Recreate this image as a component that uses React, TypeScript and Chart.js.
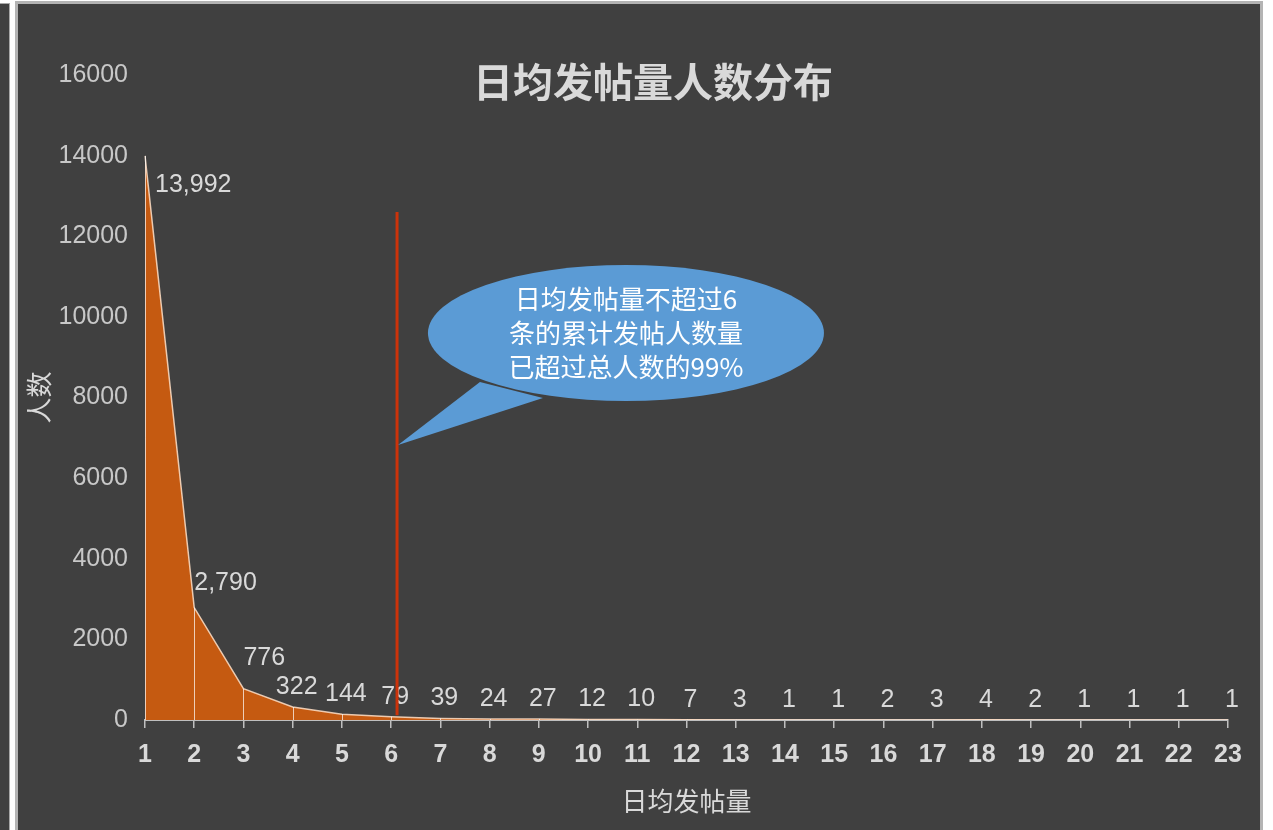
import { useEffect, useRef } from 'react';
import { Chart, registerables } from 'chart.js';

Chart.register(...registerables);

// ---- data ----
const categories = ['1', '2', '3', '4', '5', '6', '7', '8', '9', '10', '11', '12', '13', '14', '15', '16', '17', '18', '19', '20', '21', '22', '23'];
const userCounts = [13992, 2790, 776, 322, 144, 79, 39, 24, 27, 12, 10, 7, 3, 1, 1, 2, 3, 4, 2, 1, 1, 1, 1];
const yMin = 0;
const yMax = 16000;
const yStep = 2000;
const chartTitle = '日均发帖量人数分布';
const xTitle = '日均发帖量';
const yTitle = '人数';
const calloutLines = ['日均发帖量不超过6', '条的累计发帖人数量', '已超过总人数的99%'];
// threshold marker (category index units, value units)
const thresholdIndex = 5.12;
const thresholdTop = 12600;
const thresholdBottom = 120;
// callout anchor (category index units, value units)
const calloutCenterIndex = 9.77;
const calloutCenterValue = 9600;
const calloutTipIndex = 5.14;
const calloutTipValue = 6820;

const FONT = '"Liberation Sans", Arial, "Noto Sans CJK SC", sans-serif';
const CJK = '"Noto Sans CJK SC", "Liberation Sans", sans-serif';
const LIGHT = '#d9d9d9';

const overlayPlugin = {
  id: 'overlay',
  afterDatasetsDraw(chart: any) {
    const ctx: CanvasRenderingContext2D = chart.ctx;
    const xs = chart.scales.x;
    const ys = chart.scales.y;
    const meta = chart.getDatasetMeta(0);
    const base = ys.getPixelForValue(0);
    ctx.save();

    // drop lines
    ctx.strokeStyle = 'rgba(255,255,255,0.7)';
    ctx.lineWidth = 1;
    meta.data.forEach((pt: any) => {
      const px = Math.round(pt.x) + 0.5;
      ctx.beginPath();
      ctx.moveTo(px, pt.y);
      ctx.lineTo(px, base);
      ctx.stroke();
    });

    // data labels
    ctx.fillStyle = LIGHT;
    ctx.font = `25px ${FONT}`;
    ctx.textBaseline = 'middle';
    meta.data.forEach((pt: any, i: number) => {
      const txt = userCounts[i].toLocaleString('en-US');
      if (i === 0) {
        ctx.textAlign = 'left';
        ctx.fillText(txt, pt.x + 10, pt.y + 29);
      } else if (i === 1) {
        ctx.textAlign = 'left';
        ctx.fillText(txt, pt.x, pt.y - 24);
      } else if (i === 2) {
        ctx.textAlign = 'left';
        ctx.fillText(txt, pt.x, pt.y - 31);
      } else {
        ctx.textAlign = 'center';
        ctx.fillText(txt, pt.x + 4, pt.y - 20);
      }
    });

    // threshold line
    const tx = xs.getPixelForValue(thresholdIndex);
    ctx.strokeStyle = '#cc330a';
    ctx.lineWidth = 3;
    ctx.beginPath();
    ctx.moveTo(tx, ys.getPixelForValue(thresholdTop));
    ctx.lineTo(tx, ys.getPixelForValue(thresholdBottom));
    ctx.stroke();

    // callout bubble
    const cx = xs.getPixelForValue(calloutCenterIndex);
    const cy = ys.getPixelForValue(calloutCenterValue);
    const tipX = xs.getPixelForValue(calloutTipIndex);
    const tipY = ys.getPixelForValue(calloutTipValue);
    ctx.fillStyle = '#5b9bd5';
    ctx.beginPath();
    ctx.ellipse(cx, cy, 198, 68, 0, 0, Math.PI * 2);
    ctx.fill();
    ctx.beginPath();
    ctx.moveTo(cx - 146, cy + 49);
    ctx.lineTo(tipX, tipY);
    ctx.lineTo(cx - 83, cy + 65);
    ctx.closePath();
    ctx.fill();
    ctx.fillStyle = '#ffffff';
    ctx.font = `26px ${CJK}`;
    ctx.textAlign = 'center';
    ctx.textBaseline = 'middle';
    calloutLines.forEach((line, i) => {
      ctx.fillText(line, cx, cy - 34 + i * 34);
    });

    // title
    ctx.fillStyle = LIGHT;
    ctx.font = `bold 40px ${CJK}`;
    ctx.textAlign = 'center';
    ctx.textBaseline = 'middle';
    ctx.fillText(chartTitle, chart.width / 2 + 14, chart.chartArea.top + 7);

    ctx.restore();
  },
};

export default function App() {
  const ref = useRef<HTMLCanvasElement | null>(null);

  useEffect(() => {
    if (!ref.current) return;
    const chart = new Chart(ref.current, {
      type: 'line',
      data: {
        labels: categories,
        datasets: [
          {
            data: userCounts,
            fill: 'origin',
            backgroundColor: '#c55a11',
            borderColor: 'rgba(255,225,200,0.85)',
            borderWidth: 1.5,
            pointRadius: 0,
            tension: 0,
          },
        ],
      },
      options: {
        responsive: false,
        animation: false,
        layout: { padding: { left: 0, right: 32, top: 71, bottom: 0 } },
        plugins: {
          legend: { display: false },
          title: { display: false },
          tooltip: { enabled: false },
        },
        scales: {
          x: {
            type: 'category',
            offset: false,
            grid: {
              display: true,
              drawOnChartArea: false,
              drawTicks: true,
              tickLength: 8,
              color: '#bfbfbf',
              lineWidth: 1.5,
            },
            border: { display: true, color: '#bfbfbf', width: 2 },
            ticks: {
              color: LIGHT,
              font: { family: FONT, size: 25, weight: 'bold' },
              padding: 12,
              autoSkip: false,
              maxRotation: 0,
            },
            title: {
              display: true,
              text: xTitle,
              color: LIGHT,
              font: { family: CJK, size: 26 },
              padding: { top: 0, bottom: 13 },
            },
            afterFit: (scale: any) => {
              scale.height = 110;
            },
          },
          y: {
            min: yMin,
            max: yMax,
            grid: { display: false, drawTicks: false },
            border: { display: false },
            ticks: {
              stepSize: yStep,
              color: '#c8c8c8',
              font: { family: FONT, size: 25 },
              padding: 17,
              callback: (v: any) => String(v),
            },
            title: {
              display: true,
              text: yTitle,
              color: LIGHT,
              font: { family: CJK, size: 26 },
              padding: { top: 6, bottom: 0 },
            },
            afterFit: (scale: any) => {
              scale.width = 127;
            },
          },
        },
      },
      plugins: [overlayPlugin],
    });
    return () => chart.destroy();
  }, []);

  return (
    <div style={{ position: 'fixed', left: 0, top: 0, width: 1273, height: 830, backgroundColor: '#ffffff', overflow: 'hidden' }}>
      <div
        style={{
          position: 'absolute',
          left: 0,
          top: 3,
          width: 9,
          height: 827,
          backgroundColor: '#404040',
          borderRight: '1px solid #a8a8a8',
          borderTop: '1px solid #a8a8a8',
        }}
      />
      <div
        style={{
          position: 'absolute',
          left: 15,
          top: 1,
          width: 1242,
          height: 840,
          backgroundColor: '#404040',
          border: '3px solid #b4b4b4',
        }}
      />
      <canvas
        ref={ref}
        width={1242}
        height={826}
        style={{ position: 'absolute', left: 18, top: 4, width: 1242, height: 826 }}
      />
    </div>
  );
}
